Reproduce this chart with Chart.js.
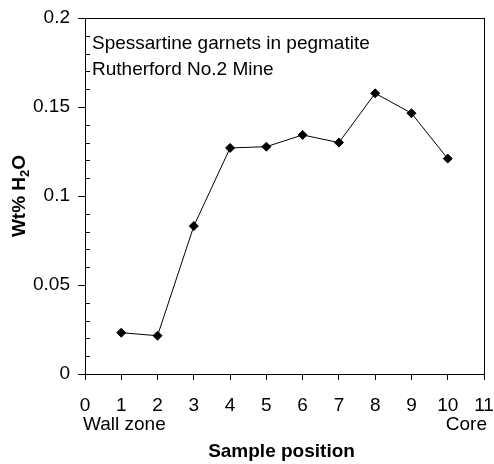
<!DOCTYPE html>
<html><head><meta charset="utf-8">
<script src="https://cdn.jsdelivr.net/npm/chart.js@4.4.0/dist/chart.umd.min.js"></script>
<style>html,body{margin:0;padding:0;background:#fff}#wrap{width:494px;height:464px}</style>
</head><body><div id="wrap"><canvas id="c" width="494" height="464"></canvas></div>
<script>
const positions = [1,2,3,4,5,6,7,8,9,10];
const water = [0.0232,0.0215,0.0831,0.127,0.1277,0.1343,0.130,0.1577,0.1465,0.121];
const xTicks = [0,1,2,3,4,5,6,7,8,9,10,11];
const yTicks = [0,0.05,0.1,0.15,0.2];
const labelTop = ["Spessartine garnets in pegmatite","Rutherford No.2 Mine"];
const FONT = "'Liberation Sans', Arial, sans-serif";

const extras = {
  id:'extras',
  afterDraw(chart){
    const {ctx, chartArea:a, scales:{x,y}} = chart;
    ctx.save();
    ctx.strokeStyle='#000'; ctx.lineWidth=1;
    ctx.beginPath();
    ctx.moveTo(a.left, a.top+0.5); ctx.lineTo(a.right+0.5, a.top+0.5);
    ctx.moveTo(a.right+0.5, a.top); ctx.lineTo(a.right+0.5, a.bottom);
    ctx.stroke();
    ctx.beginPath();
    for(let v=0.01; v<0.2; v+=0.01){
      if (Math.abs(v/0.05 - Math.round(v/0.05))<1e-6) continue;
      const py = Math.round(y.getPixelForValue(v))+0.5;
      ctx.moveTo(a.left, py); ctx.lineTo(a.left+5, py);
    }
    ctx.stroke();
    ctx.fillStyle='#000';
    ctx.font = "19px "+FONT;
    ctx.textBaseline='middle'; ctx.textAlign='left';
    ctx.fillText(labelTop[0], a.left+7, 44);
    ctx.fillText(labelTop[1], a.left+7, 70);
    ctx.fillText("Wall zone", x.getPixelForValue(0)-2, 425);
    ctx.textAlign='right';
    ctx.fillText("Core", x.getPixelForValue(11)+3, 425);
    ctx.textAlign='center';
    ctx.font = "bold 19px "+FONT;
    ctx.fillText("Sample position", (a.left+a.right)/2 - 3, 452);
    ctx.translate(20, 196);
    ctx.rotate(-Math.PI/2);
    const t1 = "Wt% H", t2="2", t3="O";
    ctx.font = "bold 19px "+FONT;
    const w1 = ctx.measureText(t1).width, w3 = ctx.measureText(t3).width;
    ctx.font = "bold 13px "+FONT;
    const w2 = ctx.measureText(t2).width;
    const tot = w1+w2+w3;
    let sx = -tot/2;
    ctx.textAlign='left';
    ctx.font = "bold 19px "+FONT;
    ctx.fillText(t1, sx, 0); sx+=w1;
    ctx.font = "bold 13px "+FONT;
    ctx.fillText(t2, sx, 5); sx+=w2;
    ctx.font = "bold 19px "+FONT;
    ctx.fillText(t3, sx, 0);
    ctx.restore();
  }
};

new Chart(document.getElementById('c'), {
  type:'scatter',
  data:{datasets:[{
    data: positions.map((p,i)=>({x:p,y:water[i]})),
    showLine:true, borderColor:'#000', borderWidth:1,
    pointStyle:'rectRot', pointRadius:4.5, pointBackgroundColor:'#000', pointBorderColor:'#000',
    tension:0
  }]},
  options:{
    responsive:false, animation:false, devicePixelRatio:1,
    layout:{padding:{left:0,right:10,top:18,bottom:0}},
    plugins:{legend:{display:false}, tooltip:{enabled:false}},
    scales:{
      x:{type:'linear', min:0, max:11,
        afterBuildTicks(s){ s.ticks = xTicks.map(v=>({value:v})); },
        afterFit(s){ s.height = 464-374; s.paddingLeft = 0; s.paddingRight = 0; },
        grid:{display:true, drawOnChartArea:false, drawTicks:true, tickLength:6, color:'#000'},
        border:{display:true, color:'#000', width:1},
        ticks:{color:'#000', font:{family:FONT, size:19}, padding:14, maxRotation:0, autoSkip:false}
      },
      y:{type:'linear', min:0, max:0.2,
        afterBuildTicks(s){ s.ticks = yTicks.map(v=>({value:v})); },
        afterFit(s){ s.width = 85; s.paddingTop = 0; s.paddingBottom = 0; },
        grid:{display:true, drawOnChartArea:false, drawTicks:true, tickLength:7, color:'#000'},
        border:{display:true, color:'#000', width:1},
        ticks:{color:'#000', font:{family:FONT, size:19}, padding:8, callback:v=>String(v)}
      }
    }
  },
  plugins:[extras]
});
</script></body></html>
